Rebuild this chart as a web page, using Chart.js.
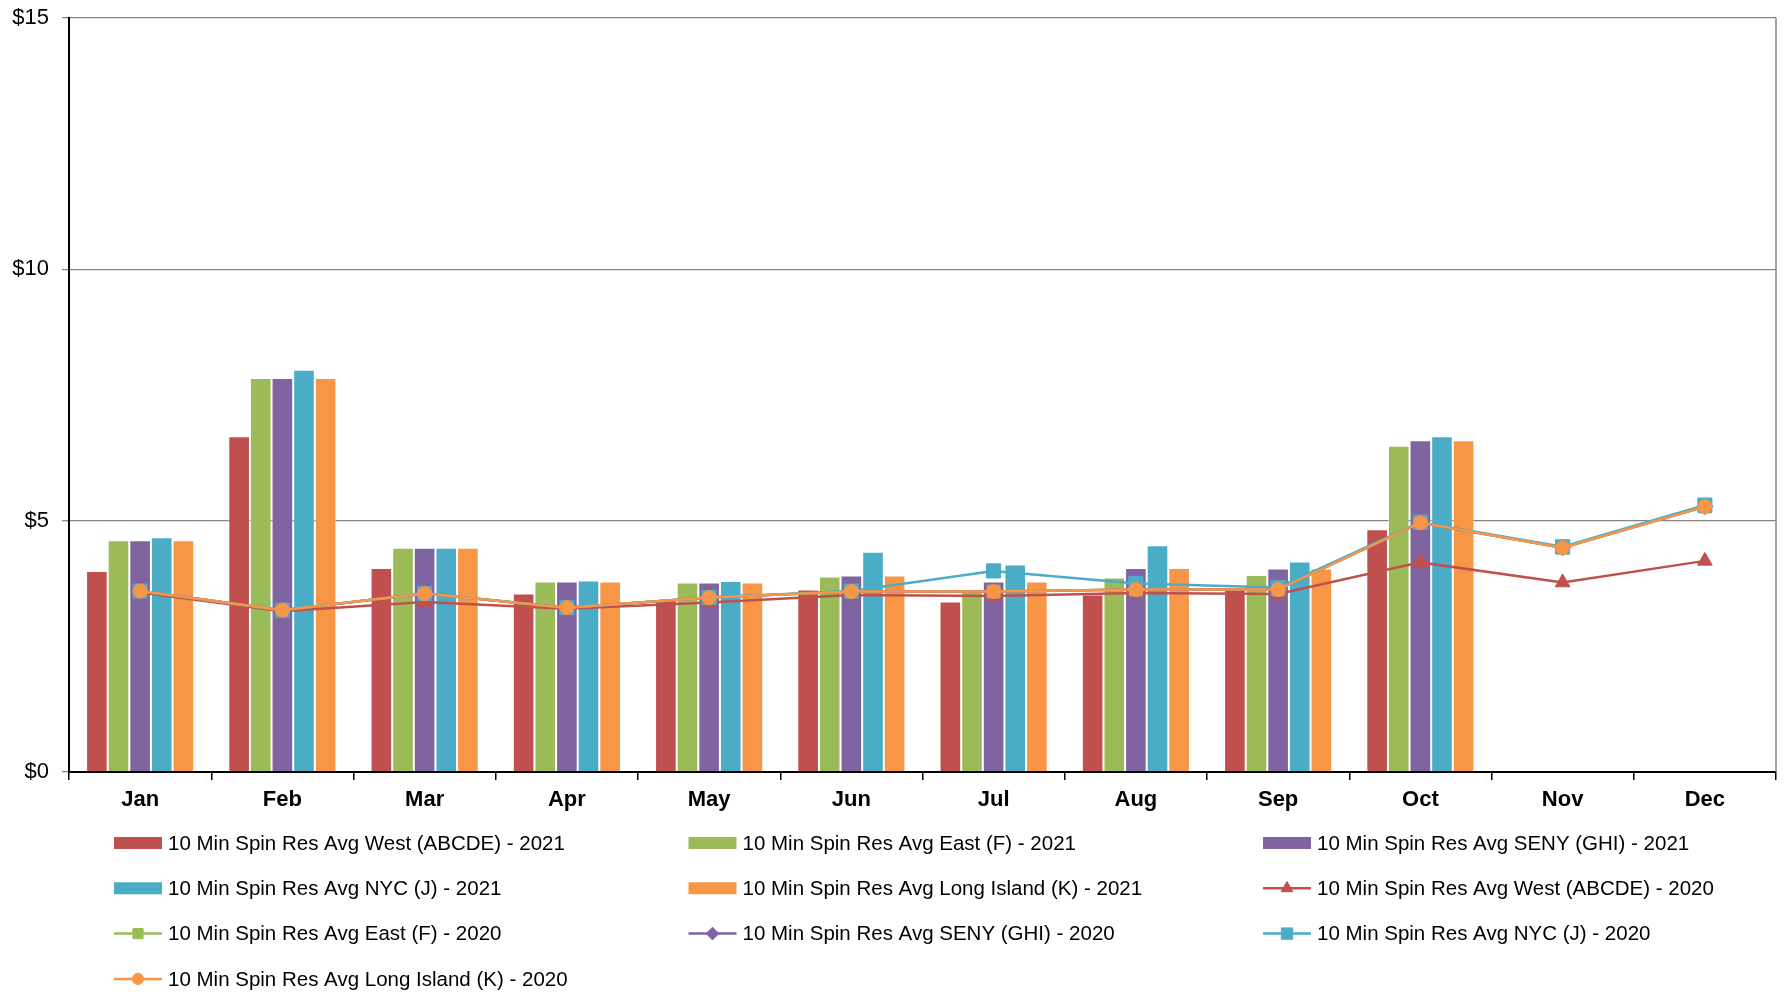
<!DOCTYPE html>
<html>
<head>
<meta charset="utf-8">
<title>10 Min Spin Res Avg</title>
<script src="https://cdn.jsdelivr.net/npm/chart.js"></script>
<style>
  html, body { margin: 0; padding: 0; background: #fff; overflow: hidden; }
  #wrap { position: relative; width: 1787px; height: 992px; }
  #spin { display: block; }
</style>
</head>
<body>
<div id="wrap"><canvas id="spin"></canvas></div>
<script>
const months = ['Jan', 'Feb', 'Mar', 'Apr', 'May', 'Jun', 'Jul', 'Aug', 'Sep', 'Oct', 'Nov', 'Dec'];
const yTicks = [0, 5, 10, 15];

// 2021 monthly averages ($/MWh) - bars
const west2021 = [4.00, 6.68, 4.06, 3.55, 3.42, 3.63, 3.39, 3.53, 3.64, 4.83, null, null];
const east2021 = [4.61, 7.84, 4.46, 3.79, 3.77, 3.89, 3.63, 3.87, 3.92, 6.49, null, null];
const seny2021 = [4.61, 7.84, 4.46, 3.79, 3.77, 3.91, 3.79, 4.06, 4.05, 6.60, null, null];
const nyc2021  = [4.67, 8.00, 4.46, 3.81, 3.80, 4.38, 4.13, 4.51, 4.19, 6.68, null, null];
const li2021   = [4.61, 7.84, 4.46, 3.79, 3.77, 3.91, 3.79, 4.06, 4.05, 6.60, null, null];

// 2020 monthly averages ($/MWh) - lines
const west2020 = [3.57, 3.20, 3.38, 3.25, 3.37, 3.52, 3.50, 3.56, 3.54, 4.17, 3.77, 4.20];
const east2020 = [3.60, 3.22, 3.55, 3.27, 3.47, 3.59, 3.59, 3.63, 3.63, 4.96, 4.46, 5.28];
const seny2020 = [3.60, 3.22, 3.55, 3.27, 3.47, 3.59, 3.59, 3.63, 3.63, 4.96, 4.46, 5.28];
const nyc2020  = [3.60, 3.22, 3.55, 3.27, 3.47, 3.60, 4.00, 3.75, 3.67, 4.97, 4.48, 5.31];
const li2020   = [3.60, 3.22, 3.55, 3.27, 3.47, 3.59, 3.59, 3.63, 3.63, 4.96, 4.46, 5.28];

const RED = '#C0504D', GREEN = '#9BBB59', PURPLE = '#8064A2', BLUE = '#4BACC6', ORANGE = '#F79646';
const FONT = "'Liberation Sans', Arial, sans-serif";

function bar(label, data, color) {
  return {
    type: 'bar', label: label, data: data, order: 10,
    backgroundColor: color, borderColor: 'rgba(255,255,255,0.45)', borderWidth: 1
  };
}
function line(label, data, color, style, radius, order) {
  return {
    type: 'line', label: label, data: data, order: order,
    borderColor: color, borderWidth: 2.5, tension: 0,
    pointStyle: style, pointRadius: radius, pointHoverRadius: radius,
    pointBackgroundColor: color, pointBorderColor: color, pointBorderWidth: 1
  };
}

// legend laid out on a 3-column grid under the axis
const gridLegend = {
  id: 'gridLegend',
  afterDraw(chart) {
    const ctx = chart.ctx;
    const top = chart.chartArea.bottom + 71;
    const colW = 574.5, left = 114, sw = 48;
    chart.data.datasets.forEach((ds, i) => {
      const x = left + (i % 3) * colW;
      const y = top + Math.floor(i / 3) * 45.3;
      ctx.save();
      if (ds.type === 'line') {
        ctx.strokeStyle = ds.borderColor;
        ctx.lineWidth = 2.5;
        ctx.beginPath(); ctx.moveTo(x, y); ctx.lineTo(x + sw, y); ctx.stroke();
        ctx.fillStyle = ds.pointBackgroundColor;
        ctx.strokeStyle = ds.pointBorderColor;
        ctx.lineWidth = 1;
        Chart.helpers.drawPoint(ctx, {pointStyle: ds.pointStyle, radius: ds.pointRadius * 0.8, rotation: 0, borderWidth: 1}, x + sw / 2, y);
      } else {
        ctx.fillStyle = ds.backgroundColor;
        ctx.fillRect(x, y - 6, sw, 12);
      }
      ctx.fillStyle = '#000';
      ctx.font = '20.5px ' + FONT;
      ctx.textBaseline = 'middle';
      ctx.fillText(ds.label, x + sw + 6, y + 1);
      ctx.restore();
    });
  }
};

// right-hand edge of the plot area
const plotEdge = {
  id: 'plotEdge',
  afterDatasetsDraw(chart) {
    const {ctx, chartArea} = chart;
    ctx.save();
    ctx.strokeStyle = '#858585';
    ctx.lineWidth = 1.5;
    ctx.beginPath();
    ctx.moveTo(chartArea.right, chartArea.top);
    ctx.lineTo(chartArea.right, chartArea.bottom);
    ctx.stroke();
    ctx.restore();
  }
};

new Chart(document.getElementById('spin'), {
  type: 'bar',
  data: {
    labels: months,
    datasets: [
      bar('10 Min Spin Res Avg West (ABCDE) - 2021', west2021, RED),
      bar('10 Min Spin Res Avg East (F) - 2021', east2021, GREEN),
      bar('10 Min Spin Res Avg SENY (GHI) - 2021', seny2021, PURPLE),
      bar('10 Min Spin Res Avg NYC (J) - 2021', nyc2021, BLUE),
      bar('10 Min Spin Res Avg Long Island (K) - 2021', li2021, ORANGE),
      line('10 Min Spin Res Avg West (ABCDE) - 2020', west2020, RED, 'triangle', 8.5, 5),
      line('10 Min Spin Res Avg East (F) - 2020', east2020, GREEN, 'rect', 9, 4),
      line('10 Min Spin Res Avg SENY (GHI) - 2020', seny2020, PURPLE, 'rectRot', 8, 3),
      line('10 Min Spin Res Avg NYC (J) - 2020', nyc2020, BLUE, 'rect', 10, 2),
      line('10 Min Spin Res Avg Long Island (K) - 2020', li2020, ORANGE, 'circle', 7, 1)
    ]
  },
  options: {
    responsive: true,
    maintainAspectRatio: false,
    animation: false,
    categoryPercentage: 0.76,
    barPercentage: 1.0,
    layout: {padding: {top: 18, right: 7, left: 0, bottom: 170}},
    plugins: {legend: {display: false}, tooltip: {enabled: false}},
    scales: {
      x: {
        grid: {offset: true, drawOnChartArea: false, color: '#000', tickLength: 8, lineWidth: 1.5},
        border: {color: '#000', width: 2},
        ticks: {color: '#000', padding: 7, font: {family: FONT, size: 22, weight: 'bold'}},
        afterFit(s) { s.height = 50; s.paddingLeft = 0; s.paddingRight = 0; }
      },
      y: {
        min: 0, max: 15,
        afterBuildTicks(s) { s.ticks = yTicks.map(v => ({value: v})); },
        grid: {color: '#858585', lineWidth: 1.3, tickLength: 7},
        border: {color: '#000', width: 2},
        ticks: {color: '#000', padding: 13, font: {family: FONT, size: 22}, callback: v => '$' + v},
        afterFit(s) { s.width = 69; s.paddingTop = 0; s.paddingBottom = 0; }
      }
    }
  },
  plugins: [plotEdge, gridLegend]
});
</script>
</body>
</html>
